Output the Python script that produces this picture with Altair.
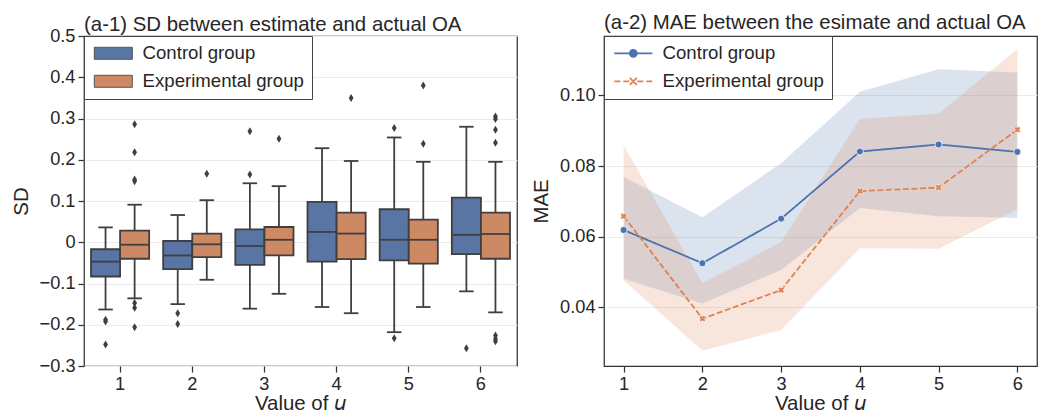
import altair as alt
import pandas as pd

# ---------------- data ----------------
u_vals = [1, 2, 3, 4, 5, 6]
groups = ["Control group", "Experimental group"]

# (a-1) box statistics
ctrl_lower = [-0.163, -0.150, -0.161, -0.157, -0.218, -0.119]
ctrl_q1 = [-0.083, -0.065, -0.055, -0.047, -0.044, -0.029]
ctrl_median = [-0.047, -0.032, -0.009, 0.025, 0.006, 0.018]
ctrl_q3 = [-0.017, 0.003, 0.031, 0.098, 0.080, 0.108]
ctrl_upper = [0.036, 0.066, 0.143, 0.228, 0.254, 0.280]

exp_lower = [-0.136, -0.091, -0.125, -0.172, -0.157, -0.170]
exp_q1 = [-0.040, -0.036, -0.032, -0.041, -0.052, -0.040]
exp_median = [-0.006, -0.005, 0.006, 0.021, 0.006, 0.020]
exp_q3 = [0.028, 0.021, 0.037, 0.072, 0.055, 0.072]
exp_upper = [0.091, 0.102, 0.136, 0.197, 0.195, 0.195]

ctrl_outliers = {1: [-0.188, -0.192, -0.248], 2: [-0.172, -0.198], 3: [0.164, 0.269],
                 4: [], 5: [0.277, -0.233], 6: [-0.257]}
exp_outliers = {1: [0.286, 0.218, 0.152, 0.148, -0.147, -0.159, -0.206], 2: [0.166],
                3: [0.251], 4: [0.350], 5: [0.380, 0.239],
                6: [0.305, 0.299, 0.273, 0.241, -0.226, -0.234, -0.240]}

# (a-2) MAE mean and band
ctrl_mean = [0.0619, 0.0525, 0.0651, 0.0841, 0.0861, 0.0840]
ctrl_lo = [0.0481, 0.0411, 0.0506, 0.0681, 0.0658, 0.0653]
ctrl_hi = [0.0769, 0.0655, 0.0808, 0.1010, 0.1074, 0.1065]
exp_mean = [0.0658, 0.0368, 0.0449, 0.0729, 0.0739, 0.0903]
exp_lo = [0.0477, 0.0277, 0.0336, 0.0567, 0.0566, 0.0678]
exp_hi = [0.0859, 0.0468, 0.0584, 0.0933, 0.0948, 0.1131]

# ---------------- tables ----------------
box_rows = []
for g, stats in zip(groups, [(ctrl_lower, ctrl_q1, ctrl_median, ctrl_q3, ctrl_upper),
                             (exp_lower, exp_q1, exp_median, exp_q3, exp_upper)]):
    for i, u in enumerate(u_vals):
        box_rows.append(dict(u=u, group=g, lower=stats[0][i], q1=stats[1][i],
                             median=stats[2][i], q3=stats[3][i], upper=stats[4][i]))
box_df = pd.DataFrame(box_rows)

out_rows = []
for g, outs in zip(groups, [ctrl_outliers, exp_outliers]):
    for u in u_vals:
        for v in outs[u]:
            out_rows.append(dict(u=u, group=g, value=v))
out_df = pd.DataFrame(out_rows)

mae_rows = []
for g, (m, lo, hi) in zip(groups, [(ctrl_mean, ctrl_lo, ctrl_hi), (exp_mean, exp_lo, exp_hi)]):
    for i, u in enumerate(u_vals):
        mae_rows.append(dict(u=u, group=g, mae=m[i], lo=lo[i], hi=hi[i]))
mae_df = pd.DataFrame(mae_rows)

# ---------------- style ----------------
FONT = "Liberation Sans"
FS_TITLE = 20.4
FS_TICK = 18.2
FS_LEG = 18.6
TXT = "#262626"
FRAME = "#333333"
EDGE = "#3f3f3f"
box_colors = ["#5975a4", "#cc8963"]
line_colors = ["#4c72b0", "#dd8452"]

RECT_PATH = "M-1,-0.857H4.43V0.857H-1Z"
CTRL_PATH = "M-1,0H4.43M2.214,0A0.5,0.5 0 1,1 1.214,0A0.5,0.5 0 1,1 2.214,0Z"
EXP_PATH = ("M-1,0H-0.143M0.286,0H1.143M2.286,0H3.143M3.571,0H4.429"
            "M1.214,-0.5L2.214,0.5M1.214,0.5L2.214,-0.5")
DIAMOND = "M0,-1L0.6,0L0,1L-0.6,0Z"

W, H = 433, 330


def make_legend(**kw):
    return alt.Legend(title=None, orient="top-left", offset=0, padding=8,
                      symbolSize=196, symbolOpacity=1, labelOffset=32, rowPadding=9,
                      labelFont=FONT, labelFontSize=FS_LEG, labelColor=TXT, labelLimit=400,
                      strokeColor="#444444", fillColor="white", cornerRadius=0, **kw)


# ---------------- (a-1) box plot ----------------
x_box = alt.X("u:N", scale=alt.Scale(paddingInner=0, paddingOuter=0),
              axis=alt.Axis(title="Value of 𝘶", labelAngle=0, grid=False, domain=False,
                            titlePadding=1))
xoff = alt.XOffset("group:N", scale=alt.Scale(domain=groups, paddingOuter=0.241, paddingInner=0))
y_box_scale = alt.Scale(domain=[-0.3, 0.5], nice=False, zero=False)
y_box_axis = alt.Axis(title="SD", values=[-0.3, -0.2, -0.1, 0, 0.1, 0.2, 0.3, 0.4, 0.5],
                      format=".1~f", grid=True, domain=False)

base_box = alt.Chart(box_df)

whisk = base_box.mark_rule(color=EDGE, strokeWidth=1.8).encode(
    x=x_box, xOffset=xoff,
    y=alt.Y("lower:Q", scale=y_box_scale, axis=y_box_axis), y2="upper:Q")
cap_lo = base_box.mark_tick(color=EDGE, size=14.5, thickness=1.8, opacity=1).encode(
    x="u:N", xOffset="group:N", y="lower:Q")
cap_hi = base_box.mark_tick(color=EDGE, size=14.5, thickness=1.8, opacity=1).encode(
    x="u:N", xOffset="group:N", y="upper:Q")
boxes = base_box.mark_bar(stroke=EDGE, strokeWidth=1.8, opacity=1).encode(
    x="u:N", xOffset="group:N", y="q1:Q", y2="q3:Q",
    color=alt.Color("group:N", scale=alt.Scale(domain=groups, range=box_colors),
                    legend=make_legend(symbolType=RECT_PATH, symbolStrokeColor="#555555",
                                       symbolStrokeWidth=1)))
med = base_box.mark_tick(color=EDGE, size=29, thickness=1.8, opacity=1).encode(
    x="u:N", xOffset="group:N", y="median:Q")
outl = alt.Chart(out_df).mark_point(shape=DIAMOND, filled=True, size=64, color=EDGE,
                                    opacity=1).encode(
    x="u:N", xOffset=alt.XOffset("group:N"), y="value:Q")

left = alt.layer(whisk, cap_lo, cap_hi, boxes, med, outl).properties(
    width=W, height=H,
    title=alt.TitleParams("(a-1) SD between estimate and actual OA", dy=11))

# ---------------- (a-2) MAE line plot ----------------
x_line = alt.X("u:Q", scale=alt.Scale(domain=[0.75, 6.25], nice=False, zero=False),
               axis=alt.Axis(title="Value of 𝘶", values=u_vals, format="d", grid=False,
                             domain=False, titlePadding=1))
y_line_scale = alt.Scale(domain=[0.0234, 0.1168], nice=False, zero=False)
y_line_axis = alt.Axis(title="MAE", values=[0.04, 0.06, 0.08, 0.10], format=".2f",
                       grid=True, domain=False)
# data-driven domain (alphabetical = Control, Experimental)
col_scale = alt.Scale(range=line_colors)

base_line = alt.Chart(mae_df)
band = base_line.mark_area(opacity=0.2).encode(
    x=x_line, y=alt.Y("lo:Q", scale=y_line_scale, axis=y_line_axis), y2="hi:Q",
    color=alt.Color("group:N", scale=col_scale, legend=None))

lines = base_line.mark_line(strokeWidth=1.8).encode(
    x="u:Q", y="mae:Q",
    color=alt.Color("group:N", scale=col_scale, legend=None),
    strokeDash=alt.StrokeDash("group:N", scale=alt.Scale(range=[[1, 0], [6, 2.5]]),
                              legend=None))
pts_ctrl = base_line.transform_filter(alt.datum.group == groups[0]).mark_point(
    shape="circle", filled=True, size=50, color=line_colors[0], opacity=1,
    stroke="white", strokeWidth=0.8).encode(x="u:Q", y="mae:Q")
pts_exp = base_line.transform_filter(alt.datum.group == groups[1]).mark_point(
    shape="cross", angle=45, filled=True, size=45, color=line_colors[1], opacity=1,
    stroke="white", strokeWidth=0.6).encode(x="u:Q", y="mae:Q")

# legend-carrying layer: its own marks have zero size, so only the legend shows
leg_line = make_legend(symbolStrokeWidth=1.8)
legend_layer = base_line.mark_point(filled=True, opacity=1, strokeWidth=1.8, size=0).encode(
    x="u:Q", y="mae:Q",
    fill=alt.Fill("group:N", scale=alt.Scale(domain=groups, range=line_colors), legend=leg_line),
    stroke=alt.Stroke("group:N", scale=alt.Scale(domain=groups, range=line_colors),
                      legend=leg_line),
    shape=alt.Shape("group:N", scale=alt.Scale(domain=groups, range=[CTRL_PATH, EXP_PATH]),
                    legend=leg_line))

right = alt.layer(band, lines, pts_ctrl, pts_exp, legend_layer).properties(
    width=W, height=H, title="(a-2) MAE between the esimate and actual OA")

chart = alt.hconcat(left, right, spacing=12).resolve_scale(
    color="independent", x="independent", y="independent", xOffset="independent",
    strokeDash="independent", stroke="independent", shape="independent",
    fill="independent"
).resolve_legend(
    color="independent", stroke="independent", shape="independent", fill="independent"
).configure(
    font=FONT, padding={"left": 10, "top": 12, "right": 5, "bottom": 0}
).configure_view(
    stroke=FRAME, strokeWidth=1.25
).configure_axis(
    labelFont=FONT, labelFontSize=FS_TICK, labelColor=TXT, titleFont=FONT,
    titleFontSize=FS_TITLE, titleColor=TXT, titleFontWeight="normal", tickColor=FRAME,
    tickSize=6, tickWidth=1.25, gridColor="#ebebeb", gridWidth=1, labelPadding=3,
    titlePadding=8
).configure_title(
    font=FONT, fontSize=FS_TITLE, fontWeight="normal", color=TXT, anchor="start",
    frame="group", offset=2
)

chart.save("out.html", embed_options={"renderer": "svg", "actions": False})
